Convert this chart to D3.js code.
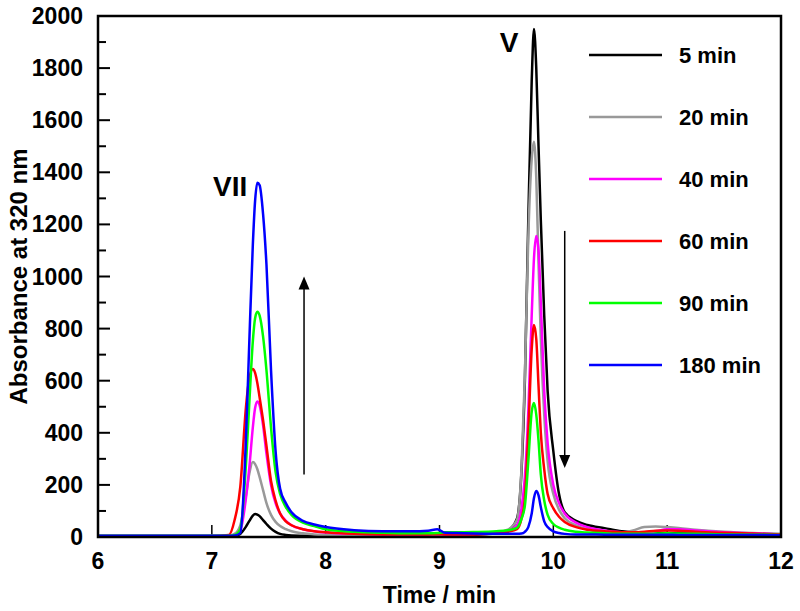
<!DOCTYPE html>
<html><head><meta charset="utf-8">
<script src="https://cdn.jsdelivr.net/npm/d3@7"></script>
<style>body{margin:0;background:#fff}svg{display:block}text{font-family:"Liberation Sans",Arial,sans-serif;font-weight:bold}</style>
</head><body>
<svg id="c" width="800" height="611"></svg>
<script>
const time = [6.0,7.0,7.15,7.2,7.25,7.3,7.33,7.36,7.38,7.40,7.42,7.45,7.48,7.52,7.56,7.6,7.65,7.7,7.8,7.9,8.0,8.25,8.5,8.75,8.9,8.98,9.05,9.15,9.3,9.5,9.6,9.68,9.72,9.75,9.78,9.81,9.83,9.85,9.87,9.89,9.92,9.95,10.0,10.05,10.1,10.2,10.3,10.45,10.6,10.7,10.8,10.9,11.0,11.1,11.25,11.5,11.75,12.0];
const s5   = [3,3,3,4,12,40,62,82,88,86,80,65,50,32,20,12,8,6,5,4,4,4,4,5,6,7,7,8,9,14,25,70,250,600,1217,1750,1950,1800,1500,1217,850,560,330,165,95,62,46,34,22,19,17,16,15,14,13,11,10,8];
const s20  = [4,4,5,12,45,160,245,288,280,260,230,180,130,85,58,42,30,22,14,10,8,6,6,7,8,9,9,10,11,16,28,65,260,620,1150,1450,1517,1380,1050,760,470,290,165,105,72,45,30,20,18,25,38,40,38,35,28,20,15,12];
const s40  = [4,4,4,6,25,150,270,420,495,520,505,430,320,200,130,90,62,45,30,22,17,12,10,10,10,11,10,10,11,14,22,45,110,230,480,850,1070,1155,1100,900,560,360,200,130,90,55,38,25,18,15,16,22,30,30,25,18,14,10];
const s60  = [4,4,8,65,192,500,610,645,630,590,535,449,350,215,140,90,60,45,30,22,18,12,10,10,10,11,10,10,10,14,20,30,70,150,400,720,814,760,580,400,260,165,110,78,58,38,28,22,18,18,20,24,25,24,20,16,13,10];
const s90  = [5,5,5,8,30,280,520,750,840,865,850,770,640,420,250,165,115,85,55,42,30,20,16,14,14,15,18,18,19,22,26,35,70,120,290,480,514,470,370,240,140,85,50,36,28,20,17,14,12,12,12,13,14,13,12,10,9,8];
const s180 = [5,5,5,6,15,380,760,1120,1290,1360,1350,1240,1045,640,330,185,130,95,62,48,38,26,22,22,24,30,16,15,13,12,12,12,13,20,38,90,150,177,160,115,60,38,22,15,12,10,10,9,9,9,9,9,9,8,8,8,8,7];
const seriesNames = ["5 min","20 min","40 min","60 min","90 min","180 min"];
const seriesColors = ["#000000","#999999","#ff00ff","#ff0000","#00ff00","#0000ff"];
const seriesValues = [s5,s20,s40,s60,s90,s180];
const xTicks = [6,7,8,9,10,11,12];
const yTicks = [0,200,400,600,800,1000,1200,1400,1600,1800,2000];
const peakLabels = [{t:"VII",x:7.01,y:1310},{t:"V",x:9.53,y:1860}];

const svg = d3.select("#c");
const L=98,R=781,T=16,B=537;
const x = d3.scaleLinear().domain([6,12]).range([L,R]);
const y = d3.scaleLinear().domain([0,2000]).range([B,T]);

// ticks
const yMinor = d3.range(100,2000,200);
svg.append("g").selectAll("line").data(yTicks).join("line")
  .attr("x1",L).attr("x2",L+12).attr("y1",d=>y(d)).attr("y2",d=>y(d)).attr("stroke","#000").attr("stroke-width",2);
svg.append("g").selectAll("line").data(yMinor).join("line")
  .attr("x1",L).attr("x2",L+8).attr("y1",d=>y(d)).attr("y2",d=>y(d)).attr("stroke","#000").attr("stroke-width",2);
svg.append("g").selectAll("line").data(xTicks).join("line")
  .attr("x1",d=>x(d)).attr("x2",d=>x(d)).attr("y1",B).attr("y2",B-12).attr("stroke","#000").attr("stroke-width",1.5);

svg.append("g").selectAll("text").data(yTicks).join("text")
  .attr("x",L-15).attr("y",d=>y(d)+8).attr("text-anchor","end").attr("font-size",23).text(d=>d);
svg.append("g").selectAll("text").data(xTicks).join("text")
  .attr("x",d=>x(d)).attr("y",B+32).attr("text-anchor","middle").attr("font-size",23).text(d=>d);

svg.append("text").attr("x",(L+R)/2).attr("y",603).attr("text-anchor","middle").attr("font-size",23).text("Time / min");
svg.append("text").attr("transform",`translate(27,${(T+B)/2}) rotate(-90)`).attr("text-anchor","middle").attr("font-size",24).text("Absorbance at 320 nm");

// lines
const line = d3.line().x((d,i)=>x(time[i])).y(d=>y(d)).curve(d3.curveMonotoneX);
svg.append("g").selectAll("path").data(seriesValues).join("path")
  .attr("d",d=>line(d)).attr("fill","none").attr("stroke",(d,i)=>seriesColors[i]).attr("stroke-width",2.5).attr("stroke-linejoin","round");

// frame
svg.append("rect").attr("x",L).attr("y",T).attr("width",R-L).attr("height",B-T).attr("fill","none").attr("stroke","#000").attr("stroke-width",2.5);

// legend
const lg = svg.append("g");
seriesNames.forEach((n,i)=>{
  const ly = 55 + i*62;
  lg.append("line").attr("x1",589).attr("x2",662).attr("y1",ly).attr("y2",ly).attr("stroke",seriesColors[i]).attr("stroke-width",2.5);
  lg.append("text").attr("x",679).attr("y",ly+8).attr("font-size",22).text(n);
});

// peak labels
svg.append("g").selectAll("text").data(peakLabels).join("text")
  .attr("x",d=>x(d.x)).attr("y",d=>y(d.y)).attr("font-size",28).text(d=>d.t);

// arrows
function arrow(xv, y0, y1){
  const px = x(xv), a=y(y0), b=y(y1);
  const dir = b<a ? 1 : -1;
  svg.append("line").attr("x1",px).attr("x2",px).attr("y1",a).attr("y2",b+dir*10).attr("stroke","#000").attr("stroke-width",1.5);
  svg.append("path").attr("d",`M${px},${b} L${px-5.5},${b+dir*13} L${px+5.5},${b+dir*13} Z`).attr("fill","#000");
}
arrow(7.81, 240, 1000);
arrow(10.1, 1175, 265);
</script>
</body></html>
